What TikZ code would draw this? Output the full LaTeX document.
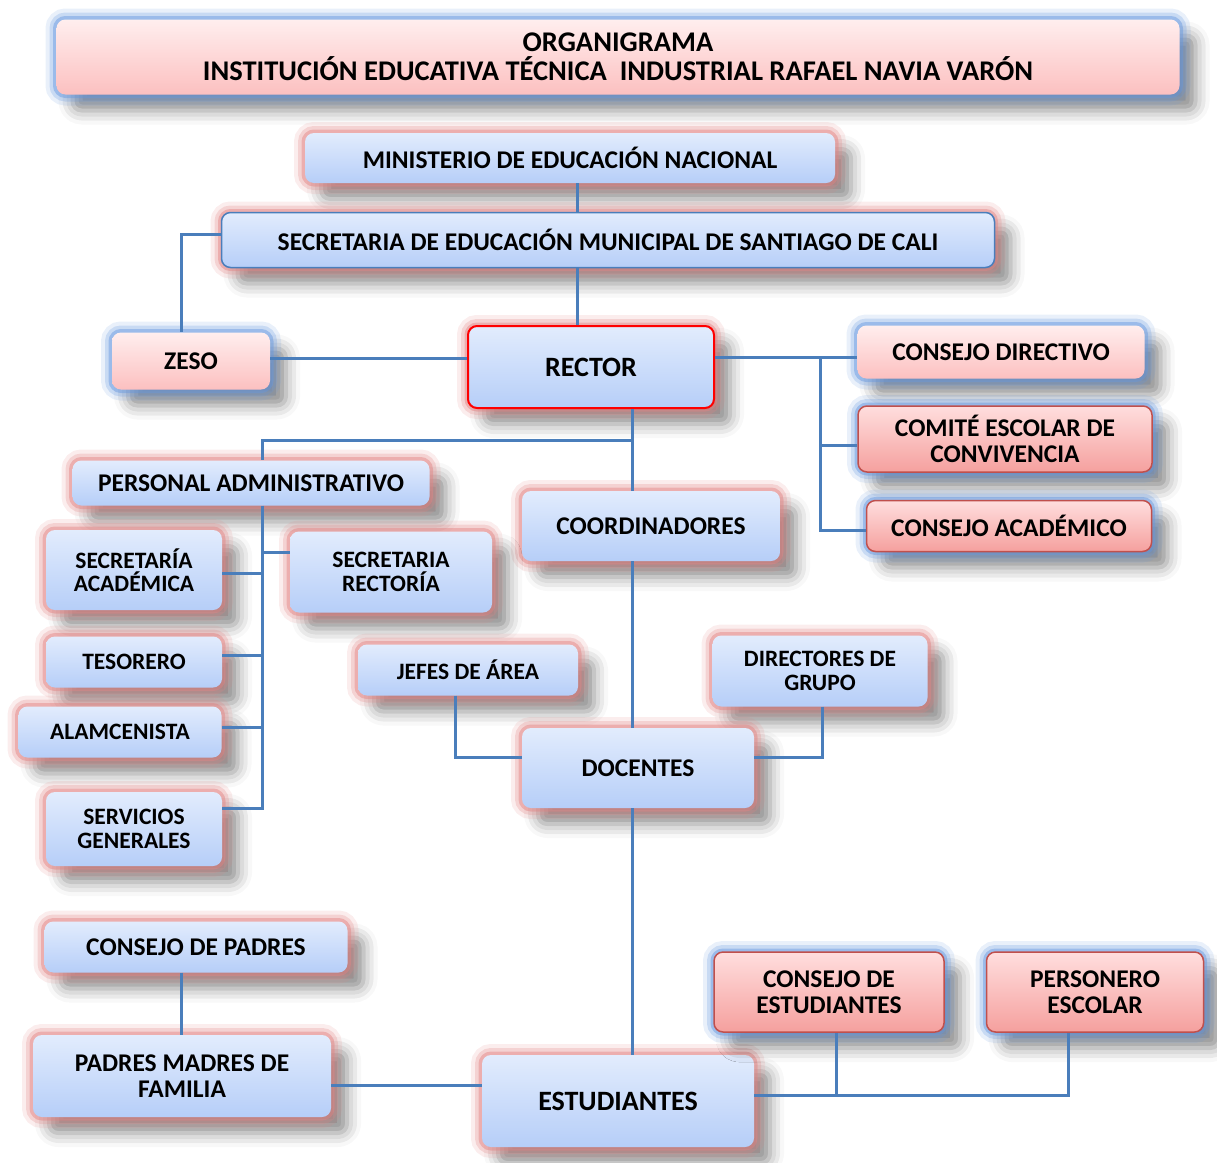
\documentclass[tikz,border=0pt]{standalone}
\usepackage{fontspec}
\setmainfont{Carlito}
\usetikzlibrary{shadows.blur}
\definecolor{ln}{RGB}{74,126,187}
\definecolor{bt}{RGB}{226,236,253}
\definecolor{bb}{RGB}{182,206,248}
\definecolor{pt}{RGB}{255,238,238}
\definecolor{pb}{RGB}{252,192,192}
\definecolor{rt}{RGB}{255,222,222}
\definecolor{rb}{RGB}{245,160,158}
\definecolor{rborder}{RGB}{192,80,77}
\definecolor{pglow}{RGB}{225,130,130}
\definecolor{bglow}{RGB}{100,150,222}
\tikzset{
  fsz/.style={font=\bfseries\fontsize{#1}{#1}\selectfont},
  base/.style={rounded corners=9pt, align=center, inner sep=2pt, text=black, fsz=25.5,
    blur shadow={shadow xshift=16pt, shadow yshift=-16pt, shadow blur radius=14pt, shadow opacity=45}},
  glowp/.style={preaction={draw=pglow,line width=22pt,opacity=.14},
    preaction={draw=pglow,line width=14pt,opacity=.25},
    preaction={draw=pglow,line width=7pt,opacity=.45}},
  glowb/.style={preaction={draw=bglow,line width=22pt,opacity=.14},
    preaction={draw=bglow,line width=14pt,opacity=.25},
    preaction={draw=bglow,line width=7pt,opacity=.45}},
  bluebox/.style={base, glowp, top color=bt, bottom color=bb},
  pinkbox/.style={base, glowb, top color=pt, bottom color=pb},
  redbox/.style={base, glowb, top color=rt, bottom color=rb, draw=rborder, line width=1.5pt},
  conn/.style={draw=ln, line width=3pt},
}
\begin{document}
\begin{tikzpicture}[x=1pt,y=-1pt]
\useasboundingbox (0,0) rectangle (1217,1162);
% nodes
\node[pinkbox, fsz=28.5, minimum width=1123pt, minimum height=75pt] (title) at (618,57)
  {ORGANIGRAMA\\INSTITUCIÓN EDUCATIVA TÉCNICA\ \ INDUSTRIAL RAFAEL NAVIA VARÓN};
\node[bluebox, minimum width=530pt, minimum height=50pt] (mne) at (570,158) {MINISTERIO DE EDUCACIÓN NACIONAL};
\node[bluebox, draw=ln, line width=1.5pt, minimum width=773pt, minimum height=55pt] (sem) at (608,240)
  {SECRETARIA DE EDUCACIÓN MUNICIPAL DE SANTIAGO DE CALI};
\node[pinkbox, minimum width=158pt, minimum height=57pt] (zeso) at (191,361) {ZESO};
\node[bluebox, draw=red, line width=2pt, fsz=28, minimum width=246pt, minimum height=82pt] (rector) at (591,367) {RECTOR};
\node[pinkbox, minimum width=287pt, minimum height=53pt] (cdir) at (1001,352) {CONSEJO DIRECTIVO};
\node[redbox, minimum width=294pt, minimum height=66pt] (comite) at (1005,439) {COMITÉ ESCOLAR DE\\CONVIVENCIA};
\node[redbox, minimum width=285pt, minimum height=51pt] (cacad) at (1009,526) {CONSEJO ACADÉMICO};
\node[bluebox, minimum width=357pt, minimum height=45pt] (padm) at (251,483) {PERSONAL ADMINISTRATIVO};
\node[bluebox, minimum width=258pt, minimum height=70pt] (coord) at (651,526) {COORDINADORES};
\node[bluebox, fsz=23.5, minimum width=176pt, minimum height=80pt] (secac) at (134,570) {SECRETARÍA\\ACADÉMICA};
\node[bluebox, fsz=23.5, minimum width=202pt, minimum height=81pt] (secrec) at (391,572) {SECRETARIA\\RECTORÍA};
\node[bluebox, fsz=23.5, minimum width=176pt, minimum height=51pt] (tes) at (134,662) {TESORERO};
\node[bluebox, fsz=23.5, minimum width=203pt, minimum height=51pt] (alm) at (120,732) {ALAMCENISTA};
\node[bluebox, fsz=23.5, minimum width=176pt, minimum height=74pt] (serv) at (134,829) {SERVICIOS\\GENERALES};
\node[bluebox, fsz=23.5, minimum width=220pt, minimum height=51pt] (jefes) at (468,670) {JEFES DE ÁREA};
\node[bluebox, fsz=23.5, minimum width=215pt, minimum height=71pt] (dirg) at (820,671) {DIRECTORES DE\\GRUPO};
\node[bluebox, minimum width=232pt, minimum height=80pt] (doc) at (638,768) {DOCENTES};
\node[bluebox, minimum width=303pt, minimum height=51pt] (cpad) at (196,947) {CONSEJO DE PADRES};
\node[bluebox, minimum width=298pt, minimum height=82pt] (pmf) at (182,1076) {PADRES MADRES DE\\FAMILIA};
\node[bluebox, fsz=28, minimum width=272pt, minimum height=92pt] (est) at (618,1101) {ESTUDIANTES};
\node[redbox, minimum width=230pt, minimum height=80pt] (cest) at (829,992) {CONSEJO DE\\ESTUDIANTES};
\node[redbox, minimum width=217pt, minimum height=80pt] (pers) at (1095,992) {PERSONERO\\ESCOLAR};
% junction coordinates
\coordinate (kA) at (181,234);
\coordinate (kB) at (577,0);
\coordinate (kC) at (0,358);
\coordinate (kD) at (820,357);
\coordinate (kE) at (820,445);
\coordinate (kF) at (820,530);
\coordinate (kG) at (632,440);
\coordinate (kH) at (262,440);
\coordinate (kI) at (262,808);
\coordinate (kJ) at (262,573);
\coordinate (kK) at (262,552);
\coordinate (kL) at (262,655);
\coordinate (kM) at (262,727);
\coordinate (kN) at (455,757);
\coordinate (kO) at (822,757);
\coordinate (kP) at (181,0);
\coordinate (kQ) at (0,1085);
\coordinate (kR) at (1068,1095);
\coordinate (kS) at (836,1095);
% connectors
\draw[conn] (mne.south -| kB) -- (sem.north -| kB);
\draw[conn] (sem.south -| kB) -- (rector.north -| kB);
\draw[conn] (sem.west |- kA) -- (kA) -- (zeso.north -| kA);
\draw[conn] (zeso.east |- kC) -- (rector.west |- kC);
\draw[conn] (rector.east |- kD) -- (cdir.west |- kD);
\draw[conn] (kD) -- (kF) -- (cacad.west |- kF);
\draw[conn] (kE) -- (comite.west |- kE);
\draw[conn] (rector.south -| kG) -- (coord.north -| kG);
\draw[conn] (kG) -- (kH) -- (padm.north -| kH);
\draw[conn] (padm.south -| kI) -- (kI) -- (serv.east |- kI);
\draw[conn] (kJ) -- (secac.east |- kJ);
\draw[conn] (kK) -- (secrec.west |- kK);
\draw[conn] (kL) -- (tes.east |- kL);
\draw[conn] (kM) -- (alm.east |- kM);
\draw[conn] (coord.south -| kG) -- (doc.north -| kG);
\draw[conn] (doc.south -| kG) -- (est.north -| kG);
\draw[conn] (jefes.south -| kN) -- (kN) -- (doc.west |- kN);
\draw[conn] (dirg.south -| kO) -- (kO) -- (doc.east |- kO);
\draw[conn] (cpad.south -| kP) -- (pmf.north -| kP);
\draw[conn] (pmf.east |- kQ) -- (est.west |- kQ);
\draw[conn] (est.east |- kR) -- (kR) -- (pers.south -| kR);
\draw[conn] (cest.south -| kS) -- (kS);
\end{tikzpicture}
\end{document}
